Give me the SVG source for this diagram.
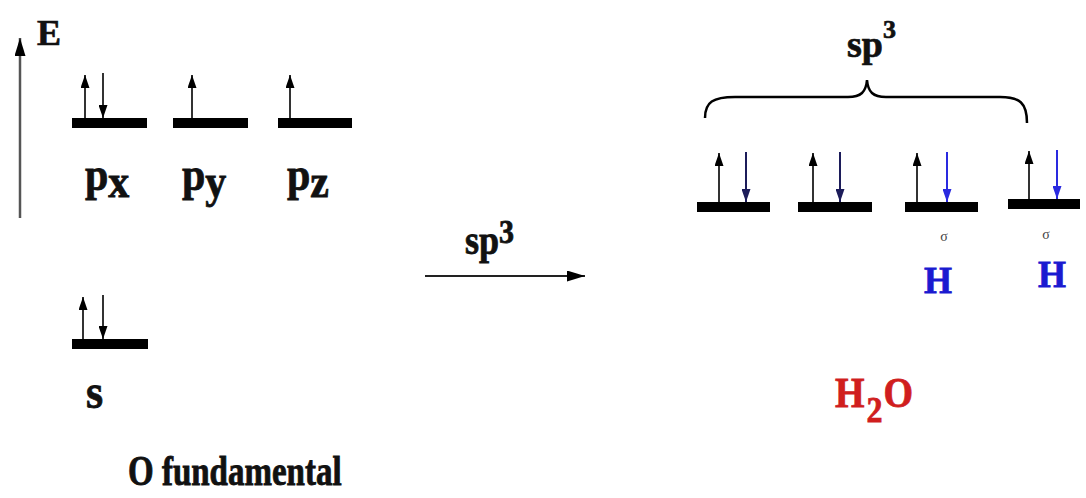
<svg xmlns="http://www.w3.org/2000/svg" width="1086" height="498" viewBox="0 0 1086 498">
<style>
text{font-family:"Liberation Serif","DejaVu Serif",serif;font-weight:bold;fill:#111;stroke:#111;stroke-width:0.7}
.bar{fill:#000}
.el{stroke:#333;stroke-width:2;fill:none}
.dn1{stroke:#1c1c5a;stroke-width:2;fill:none}
.dn2{stroke:#2a2ae0;stroke-width:2;fill:none}
.blue{fill:#1a1ad0;stroke:#1a1ad0}
.red{fill:#d01e1e;stroke:#d01e1e}
.sig{font-size:14px;font-weight:normal;fill:#444;stroke:none}
</style>
<defs>
<marker id="ah" markerUnits="userSpaceOnUse" markerWidth="13" markerHeight="9" refX="13" refY="4.5" orient="auto"><path d="M0,0 L13,4.5 L0,9 z" fill="#000"/></marker>
<marker id="ahn" markerUnits="userSpaceOnUse" markerWidth="13" markerHeight="9" refX="13" refY="4.5" orient="auto"><path d="M0,0 L13,4.5 L0,9 z" fill="#1c1c5a"/></marker>
<marker id="ahb" markerUnits="userSpaceOnUse" markerWidth="13" markerHeight="9" refX="13" refY="4.5" orient="auto"><path d="M0,0 L13,4.5 L0,9 z" fill="#2a2ae0"/></marker>
<marker id="big" markerUnits="userSpaceOnUse" markerWidth="18" markerHeight="11" refX="18" refY="5.5" orient="auto"><path d="M0,0 L18,5.5 L0,11 z" fill="#000"/></marker>
</defs>

<g id="axis">
<line x1="20" y1="218" x2="20" y2="38" stroke="#555" stroke-width="2.5" marker-end="url(#big)"/>
<text x="37" y="45" font-size="36">E</text>
</g>

<g id="px">
<rect class="bar" x="72" y="118" width="75" height="10"/>
<line class="el" x1="85" y1="118" x2="85" y2="75" marker-end="url(#ah)"/>
<line class="el" x1="103" y1="73" x2="103" y2="118" marker-end="url(#ah)"/>
<text transform="translate(85,190) scale(1,1.1)" font-size="42">p<tspan dy="6">x</tspan></text>
</g>
<g id="py">
<rect class="bar" x="173" y="118" width="75" height="10"/>
<line class="el" x1="192" y1="118" x2="192" y2="75" marker-end="url(#ah)"/>
<text transform="translate(182,190) scale(1,1.1)" font-size="42">p<tspan dy="6">y</tspan></text>
</g>
<g id="pz">
<rect class="bar" x="278" y="118" width="74" height="10"/>
<line class="el" x1="290" y1="118" x2="290" y2="75" marker-end="url(#ah)"/>
<text transform="translate(287,190) scale(1,1.1)" font-size="42">p<tspan dy="6">z</tspan></text>
</g>
<g id="s">
<rect class="bar" x="72" y="339" width="76" height="10"/>
<line class="el" x1="83" y1="339" x2="83" y2="297" marker-end="url(#ah)"/>
<line class="el" x1="103" y1="295" x2="103" y2="339" marker-end="url(#ah)"/>
<text transform="translate(86,408) scale(1,1.12)" font-size="44">s</text>
</g>
<g id="o-fundamental">
<text transform="translate(128,485) scale(1,1.3)" font-size="33">O fundamental</text>
</g>

<g id="connectors">
<line x1="425" y1="276" x2="585" y2="276" stroke="#222" stroke-width="2" marker-end="url(#big)"/>
<text transform="translate(465,254) scale(1,1.1)" font-size="36">sp<tspan font-size="30" dy="-10">3</tspan></text>
</g>

<g id="sp3-brace">
<path d="M705,118 C705,102 713,97 735,97 L848,97 C861,97 866,92 867,80 C868,92 873,97 886,97 L1000,97 C1020,97 1027,103 1027,123" fill="none" stroke="#000" stroke-width="2.5"/>
<text x="847" y="57" font-size="38">sp<tspan font-size="26" dy="-19">3</tspan></text>
</g>

<g id="sp3-1">
<rect class="bar" x="697" y="202" width="73" height="10"/>
<line class="el" x1="719" y1="202" x2="719" y2="153" marker-end="url(#ah)"/>
<line class="dn1" x1="746" y1="152" x2="746" y2="202" marker-end="url(#ahn)"/>
</g>
<g id="sp3-2">
<rect class="bar" x="798" y="202" width="74" height="10"/>
<line class="el" x1="813" y1="202" x2="813" y2="153" marker-end="url(#ah)"/>
<line class="dn1" x1="840" y1="152" x2="840" y2="202" marker-end="url(#ahn)"/>
</g>
<g id="sp3-3">
<rect class="bar" x="905" y="202" width="73" height="10"/>
<line class="el" x1="917" y1="202" x2="917" y2="153" marker-end="url(#ah)"/>
<line class="dn2" x1="947" y1="152" x2="947" y2="202" marker-end="url(#ahb)"/>
<text class="sig" x="944" y="241" text-anchor="middle">σ</text>
<text class="blue" transform="translate(938,293) scale(1,1.08)" font-size="36" text-anchor="middle">H</text>
</g>
<g id="sp3-4">
<rect class="bar" x="1008" y="199" width="72" height="10"/>
<line class="el" x1="1029" y1="199" x2="1029" y2="151" marker-end="url(#ah)"/>
<line class="dn2" x1="1057" y1="150" x2="1057" y2="199" marker-end="url(#ahb)"/>
<text class="sig" x="1046" y="239" text-anchor="middle">σ</text>
<text class="blue" transform="translate(1052,287) scale(1,1.08)" font-size="36" text-anchor="middle">H</text>
</g>

<g id="h2o">
<text class="red" transform="translate(835,407) scale(1,1.1)" font-size="38">H<tspan font-size="32" dy="13.6" dx="2">2</tspan><tspan dy="-13.6" dx="1">O</tspan></text>
</g>
</svg>
